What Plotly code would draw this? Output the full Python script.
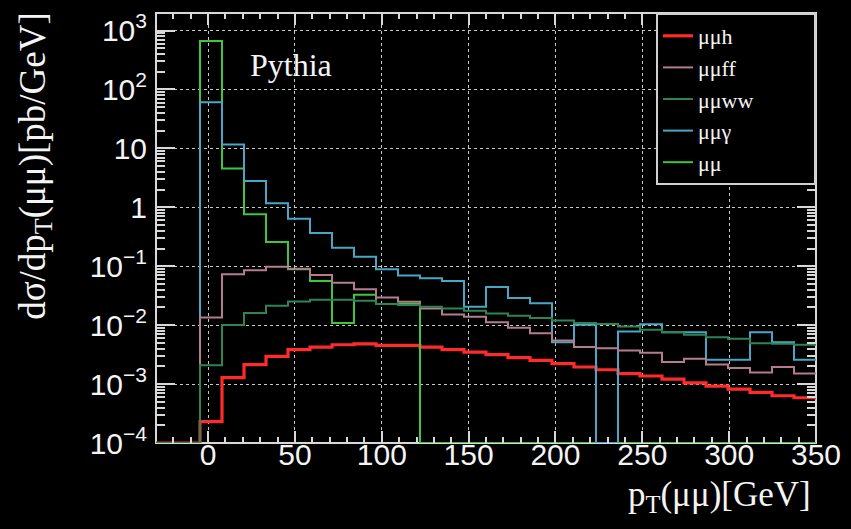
import numpy as np
import plotly.graph_objects as go

# Histogram binning: 30 equal bins from -30 to 350 GeV
x_lo, x_hi, n_bins = -30.0, 350.0, 30

# dsigma/dpT(mumu) in pb/GeV, one value per bin
mumu_h = [0, 0, 0.000231, 0.00129, 0.00214, 0.00295, 0.00383, 0.00424, 0.00465, 0.00483,
          0.00453, 0.00453, 0.00424, 0.00383, 0.00349, 0.00315, 0.00281, 0.00253, 0.00222, 0.00195,
          0.00175, 0.00151, 0.00137, 0.00121, 0.00105, 0.000923, 0.000821, 0.000723, 0.000634, 0.000586]
mumu_ff = [0, 0, 0.01355, 0.0730, 0.0853, 0.098, 0.0908, 0.0710, 0.0527, 0.0408,
           0.0294, 0.0249, 0.0192, 0.0151, 0.0139, 0.01117, 0.0090, 0.0073, 0.0055, 0.00424,
           0.00407, 0.00372, 0.00341, 0.00237, 0.0027, 0.00214, 0.00188, 0.00157, 0.00195, 0.00151]
mumu_ww = [0, 0, 0.00208, 0.0101, 0.0161, 0.0213, 0.0252, 0.0269, 0.0269, 0.0259,
           0.0228, 0.0219, 0.0205, 0.0192, 0.0176, 0.0158, 0.0145, 0.01324, 0.01194, 0.0109,
           0.0105, 0.00946, 0.00832, 0.00759, 0.00685, 0.00624, 0.00586, 0.00494, 0.00483, 0.00465]
mumu_gamma = [0, 0, 60.6, 11.6, 2.80, 1.17, 0.640, 0.366, 0.205, 0.1445,
              0.0886, 0.0697, 0.0625, 0.0563, 0.0205, 0.0446, 0.0288, 0.0235, 0.00514, 0.0102,
              0, 0.00778, 0.01033, 0.00759, 0.00759, 0.0026, 0.0026, 0.00759, 0.00514, 0.0026]
mumu = [0, 0, 663, 4.56, 0.766, 0.258, 0.0886, 0.0563, 0.0109, 0.0327,
        0.0228, 0.0228, 0, 0, 0, 0, 0, 0, 0, 0,
        0, 0, 0, 0, 0, 0, 0, 0, 0, 0]

# y tick labels (decades)
y_decades = [-4, -3, -2, -1, 0, 1, 2, 3]
y_ticktext = ["10<sup>\u22124</sup>", "10<sup>\u22123</sup>", "10<sup>\u22122</sup>",
              "10<sup>\u22121</sup>", "1", "10", "10<sup>2</sup>", "10<sup>3</sup>"]
x_tickvals = [0, 50, 100, 150, 200, 250, 300, 350]

y_log_range = [-4.0, 3.298]
y_floor = 10 ** y_log_range[0]

edges = np.linspace(x_lo, x_hi, n_bins + 1)

# (name, values, colour, width, legend rank); listed in drawing order
series = [
    ("\u03bc\u03bch", mumu_h, "#ff2b2b", 3.2, 1),
    ("\u03bc\u03bc", mumu, "#3fc63f", 2.0, 5),
    ("\u03bc\u03bc\u03b3", mumu_gamma, "#4aa6c6", 2.0, 4),
    ("\u03bc\u03bcff", mumu_ff, "#b47d8c", 2.0, 2),
    ("\u03bc\u03bcww", mumu_ww, "#2e8553", 2.0, 3),
]

pad = "\u00a0" * 10  # keeps the legend box wide

fig = go.Figure()
for name, vals, color, width, rank in series:
    v = np.maximum(np.asarray(vals, dtype=float), y_floor)  # empty bins sit on the frame
    fig.add_trace(go.Scatter(
        x=edges, y=np.append(v, v[-1]), mode="lines", line_shape="hv",
        line=dict(color=color, width=width), name=name + pad, legendrank=rank,
    ))

# minor tick positions: every 10 GeV on x, 2..9 x 10^n on y
minor_x = [t for t in range(-30, 351, 10) if t % 50 != 0]
minor_y = [m * 10 ** d for d in range(-4, 4) for m in range(2, 10) if m * 10 ** d < 10 ** y_log_range[1]]

frame = "#d8d8d8"
axis_common = dict(
    showline=False, mirror="ticks",
    ticks="inside", tickcolor=frame, tickwidth=1.5,
    zeroline=False,
    showgrid=True, gridcolor="#c8c8c8", gridwidth=1, griddash="dot",
    tickfont=dict(family="Liberation Sans, Arial, sans-serif", size=30, color="#f4f4f4"),
)

fig.update_layout(
    width=851, height=529,
    margin=dict(l=156, r=32, t=10, b=86),
    paper_bgcolor="black", plot_bgcolor="rgba(0,0,0,0)",
    showlegend=True,
    legend=dict(
        x=1, y=1, xanchor="right", yanchor="top",
        bgcolor="black", bordercolor="#d0d0d0", borderwidth=2,
        font=dict(family="Liberation Serif, Times New Roman, serif", size=22, color="#f4f4f4"),
        tracegroupgap=0, itemwidth=30,
    ),
    xaxis=dict(
        range=[x_lo, x_hi], tickmode="array", tickvals=x_tickvals, ticklen=12,
        ticklabelstandoff=-9,
        minor=dict(tickmode="array", tickvals=minor_x, ticks="inside", ticklen=6,
                   tickcolor=frame, tickwidth=1.5, showgrid=False),
        **axis_common,
    ),
    yaxis=dict(
        type="log", range=y_log_range, tickmode="array",
        tickvals=[10.0 ** d for d in y_decades], ticktext=y_ticktext, ticklen=19,
        ticklabelstandoff=8,
        minor=dict(tickmode="array", tickvals=minor_y, ticks="inside", ticklen=9,
                   tickcolor=frame, tickwidth=1.5, showgrid=False),
        **axis_common,
    ),
)

# plot frame, kept beneath the histograms so empty bins show on it
fig.add_shape(type="rect", xref="paper", yref="paper", x0=0, x1=1, y0=0, y1=1,
              line=dict(color=frame, width=2), layer="below")

serif = "Liberation Serif, Times New Roman, serif"
fig.add_annotation(text="Pythia", xref="paper", yref="paper", x=0.139, y=0.88,
                   xanchor="left", yanchor="middle", showarrow=False,
                   font=dict(family=serif, size=32, color="#f4f4f4"))
fig.add_annotation(text="p<sub>T</sub>(\u03bc\u03bc)[GeV]", xref="paper", yref="paper",
                   x=0.995, y=-0.125, xanchor="right", yanchor="middle", showarrow=False,
                   font=dict(family=serif, size=35, color="#f4f4f4"))
fig.add_annotation(text="d\u03c3/dp<sub>T</sub>(\u03bc\u03bc)[pb/GeV]", xref="paper", yref="paper",
                   x=-0.183, y=0.645, xanchor="center", yanchor="middle", textangle=-90,
                   showarrow=False, font=dict(family=serif, size=37, color="#f4f4f4"))

fig.write_html("out.html")
